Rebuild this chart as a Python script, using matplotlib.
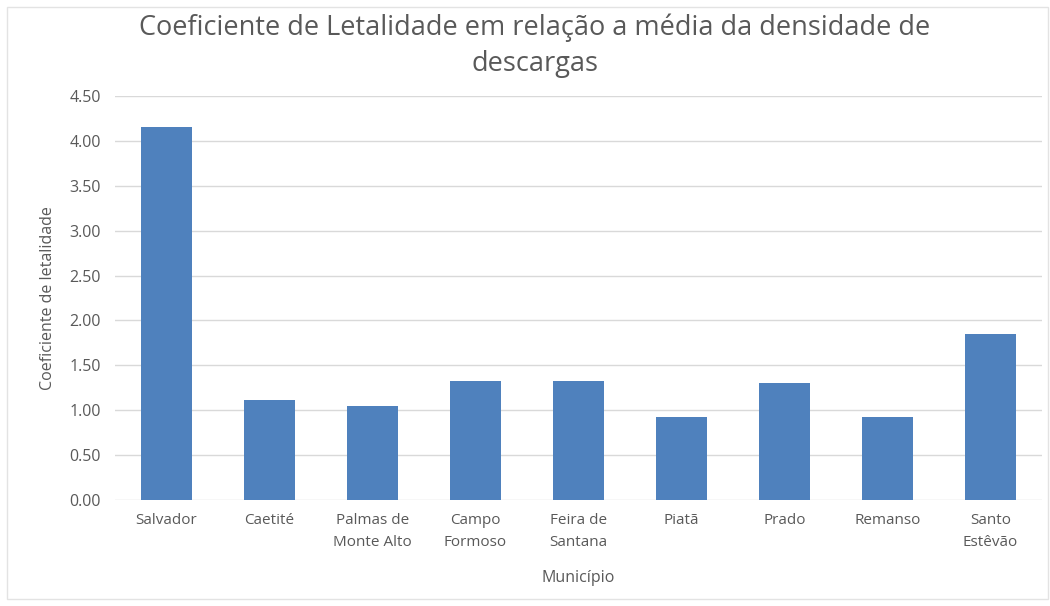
import numpy as np
import matplotlib
matplotlib.use("Agg")
import matplotlib.pyplot as plt
from matplotlib.patches import Rectangle

# Data
municipios = ["Salvador", "Caetité", "Palmas de\nMonte Alto", "Campo\nFormoso",
              "Feira de\nSantana", "Piatã", "Prado", "Remanso", "Santo\nEstêvão"]
coeficientes = [4.16, 1.11, 1.05, 1.32, 1.33, 0.92, 1.30, 0.93, 1.85]
yticks = [0.0, 0.5, 1.0, 1.5, 2.0, 2.5, 3.0, 3.5, 4.0, 4.5]

plt.rcParams['font.family'] = ['Open Sans', 'DejaVu Sans']
grey = "#595959"

fig = plt.figure(figsize=(10.5, 6.06), dpi=100)
ax = fig.add_axes([115 / 1050, 106 / 606, 927 / 1050, 404 / 606])

# light frame around the chart area
fig.patches.append(Rectangle((7 / 1050, 7 / 606), 1041 / 1050, 592 / 606,
                             transform=fig.transFigure, fill=False,
                             edgecolor="#E3E3E3", linewidth=1))

ind = np.arange(len(municipios))
ax.bar(ind, coeficientes, 0.5, color="#4F81BD", zorder=3)

ax.set_xlim(-0.5, len(municipios) - 0.5)
ax.set_ylim(0, 4.5)
ax.set_yticks(yticks)
ax.set_yticklabels(["%.2f" % v for v in yticks])
ax.set_xticks(ind)
ax.set_xticklabels(municipios, linespacing=1.7)

ax.grid(axis="y", color="#D9D9D9", linewidth=1, zorder=0)
for s in ax.spines.values():
    s.set_visible(False)
ax.tick_params(axis="both", length=0, colors=grey, labelsize=11)
ax.tick_params(axis="y", pad=10, labelsize=11.5)
ax.tick_params(axis="x", pad=9)

ax.set_ylabel("Coeficiente de letalidade", color=grey, fontsize=11.5, labelpad=10)
ax.set_xlabel("Município", color=grey, fontsize=11.5, labelpad=14)

fig.text(535 / 1050, 1 - 46 / 606,
         "Coeficiente de Letalidade em relação a média da densidade de\ndescargas",
         ha="center", va="center", fontsize=19.5, color=grey, linespacing=1.4)

plt.savefig("out.png", dpi=100)
